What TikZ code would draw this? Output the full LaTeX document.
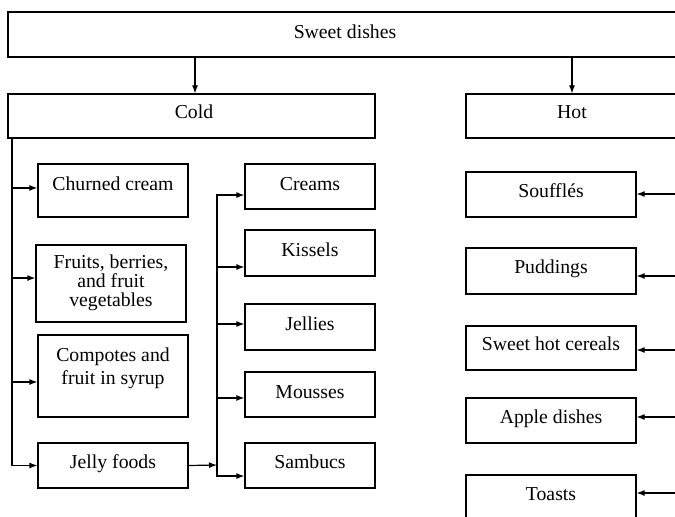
\documentclass[tikz,border=0pt]{standalone}
\usepackage{fontspec}
\setmainfont{Liberation Serif}
\usetikzlibrary{arrows.meta,fit}
\begin{document}
\begin{tikzpicture}[x=0.75pt,y=-0.75pt,
  box/.style={draw, line width=0.9pt, inner sep=0pt},
  lbl/.style={font=\fontsize{14.8pt}{15pt}\selectfont, inner sep=0pt, anchor=base},
  arr/.style={draw, line width=0.9pt, -{Latex[length=6pt,width=4.5pt]}}]
\useasboundingbox (0,0) rectangle (675,517);
\clip (0,0) rectangle (675,517);
% boxes
\node[box, fit={(8,12) (682,57)}] (top) {};
\node[box, fit={(8,94) (375,138)}] (cold) {};
\node[box, fit={(466,94) (678,138)}] (hot) {};
\node[box, fit={(38,164) (188,217)}] (churned) {};
\node[box, fit={(36,245) (186,322)}] (fruits) {};
\node[box, fit={(38,335) (188,417)}] (compotes) {};
\node[box, fit={(38,443) (188,488)}] (jelly) {};
\node[box, fit={(245,164) (375,209)}] (creams) {};
\node[box, fit={(245,230) (375,276)}] (kissels) {};
\node[box, fit={(245,304) (375,350)}] (jellies) {};
\node[box, fit={(245,372) (375,417)}] (mousses) {};
\node[box, fit={(245,443) (375,488)}] (sambucs) {};
\node[box, fit={(466,172) (636,217)}] (souffles) {};
\node[box, fit={(466,248) (636,294)}] (puddings) {};
\node[box, fit={(466,326) (636,370)}] (cereals) {};
\node[box, fit={(466,398) (636,443)}] (apple) {};
\node[box, fit={(466,475) (636,525)}] (toasts) {};
% texts
\node[lbl] (ttop) at (345,38.5) {Sweet dishes};
\node[lbl] (tcold) at (194,118.5) {Cold};
\node[lbl] (thot) at (572,118.5) {Hot};
\node[lbl] (tchurned) at (113,190) {Churned cream};
\node[lbl] (tfr1) at (111,268) {Fruits, berries,};
\node[lbl] (tfr2) at (111,287) {and fruit};
\node[lbl] (tfr3) at (111,306) {vegetables};
\node[lbl] (tcp1) at (113,361) {Compotes and};
\node[lbl] (tcp2) at (113,384) {fruit in syrup};
\node[lbl] (tjelly) at (113,468) {Jelly foods};
\node[lbl] (tcreams) at (310,190) {Creams};
\node[lbl] (tkissels) at (310,256) {Kissels};
\node[lbl] (tjellies) at (310,330) {Jellies};
\node[lbl] (tmousses) at (310,398) {Mousses};
\node[lbl] (tsambucs) at (310,468) {Sambucs};
\node[lbl] (tsouffles) at (551,197) {Soufflés};
\node[lbl] (tpuddings) at (551,273) {Puddings};
\node[lbl] (tcereals) at (551,350) {Sweet hot cereals};
\node[lbl] (tapple) at (551,423) {Apple dishes};
\node[lbl] (ttoasts) at (551,500) {Toasts};
% top arrows
\draw[arr] (top.south -| 195,0) -- (cold.north -| 195,0);
\draw[arr] (top.south -| hot.north) -- (hot.north);
% left trunk
\coordinate (trunk) at (12,138);
\draw[arr] (trunk) |- ([yshift=1.9pt]churned.west);
\draw[arr] (trunk) |- ([yshift=4.1pt]fruits.west);
\draw[arr] (trunk) |- ([yshift=-4.5pt]compotes.west);
\draw[arr] (trunk) |- (jelly.west);
% middle trunk
\coordinate (mid) at (217,465);
\draw[arr] (jelly.east) -- (mid);
\draw[arr] (mid) |- ([yshift=-6.4pt]creams.west);
\draw[arr] (mid) |- ([yshift=-10.5pt]kissels.west);
\draw[arr] (mid) |- ([yshift=2.25pt]jellies.west);
\draw[arr] (mid) |- ([yshift=-2.6pt]mousses.west);
\draw[arr] (mid) |- ([yshift=-7.9pt]sambucs.west);
% hot arrows
\coordinate (h1) at (680,194);
\coordinate (h2) at (680,276);
\coordinate (h3) at (680,350);
\coordinate (h4) at (680,417);
\coordinate (h5) at (680,493);
\draw[arr] (h1) -- (souffles.east |- h1);
\draw[arr] (h2) -- (puddings.east |- h2);
\draw[arr] (h3) -- (cereals.east |- h3);
\draw[arr] (h4) -- (apple.east |- h4);
\draw[arr] (h5) -- (toasts.east |- h5);
\end{tikzpicture}
\end{document}
